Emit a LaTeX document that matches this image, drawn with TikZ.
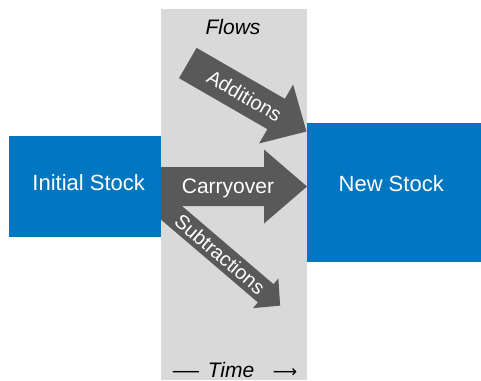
\documentclass[tikz,border=0pt]{standalone}
\usepackage{fontspec}
\setmainfont{Liberation Sans}
\newfontfamily\dvsans{DejaVu Sans}
\definecolor{stockblue}{RGB}{0,119,192}
\definecolor{flowgrey}{RGB}{89,89,89}
\definecolor{timegrey}{RGB}{217,217,217}
\newcommand\blkarrow[4]{\fill[flowgrey] (0,-#3) -- (#1,-#3) -- (#1,-#4) -- ({#1+#2},0) -- (#1,#4) -- (#1,#3) -- (0,#3) -- cycle;}
\tikzset{
  stockbox/.style={fill=stockblue, draw=none, inner sep=0pt},
  stocktext/.style={text=white, font=\fontsize{22}{26}\selectfont, inner sep=0pt, anchor=base},
  flowtext/.style={text=white, font=\fontsize{20}{24}\selectfont, inner sep=0pt},
  axistext/.style={text=black, font=\fontsize{21}{25}\selectfont\itshape, inner sep=0pt, anchor=base},
}
\begin{document}
\begin{tikzpicture}[x=1pt,y=-1pt]
\useasboundingbox (0,0) rectangle (481,380);
% time column
\fill[timegrey] (161,9) rectangle (307,380);
% flows
\begin{scope}[shift={(160,203)},rotate=-40.5]
  \blkarrow{139}{19}{12}{19.5}
\end{scope}
\begin{scope}[shift={(187.8,63)},rotate=-30]
  \blkarrow{102}{35}{17.5}{34}
\end{scope}
\begin{scope}[shift={(150,186.5)}]
  \blkarrow{114}{43}{19.5}{37}
\end{scope}
% stocks
\node[stockbox, minimum width=152pt, minimum height=101pt] (init) at (85,186.5) {};
\node[stockbox, minimum width=174pt, minimum height=139pt] (new) at (394,192.5) {};
\node[stocktext] (initlbl) at (88.7,190.5) {Initial Stock};
\node[stocktext] (newlbl) at (391.2,191) {New Stock};
% flow labels
\node[flowtext, anchor=base, font=\fontsize{21}{25}\selectfont] (carry) at (228,193) {Carryover};
\node[flowtext, rotate=-30] (add) at (244.5,95.7) {Additions};
\node[flowtext, rotate=-40.5] (sub) at (220,254) {Subtractions};
% titles
\node[axistext] (flows) at (233,34) {Flows};
\node[axistext, font=\fontsize{21}{25}\selectfont] (dash) at (186,377) {\scalebox{1.25}[1]{—}};
\node[axistext] (time) at (231,377) {Time};
\node[axistext, font=\fontsize{17}{20}\dvsans] (tarrow) at (285,377) {⟶};
\end{tikzpicture}
\end{document}
